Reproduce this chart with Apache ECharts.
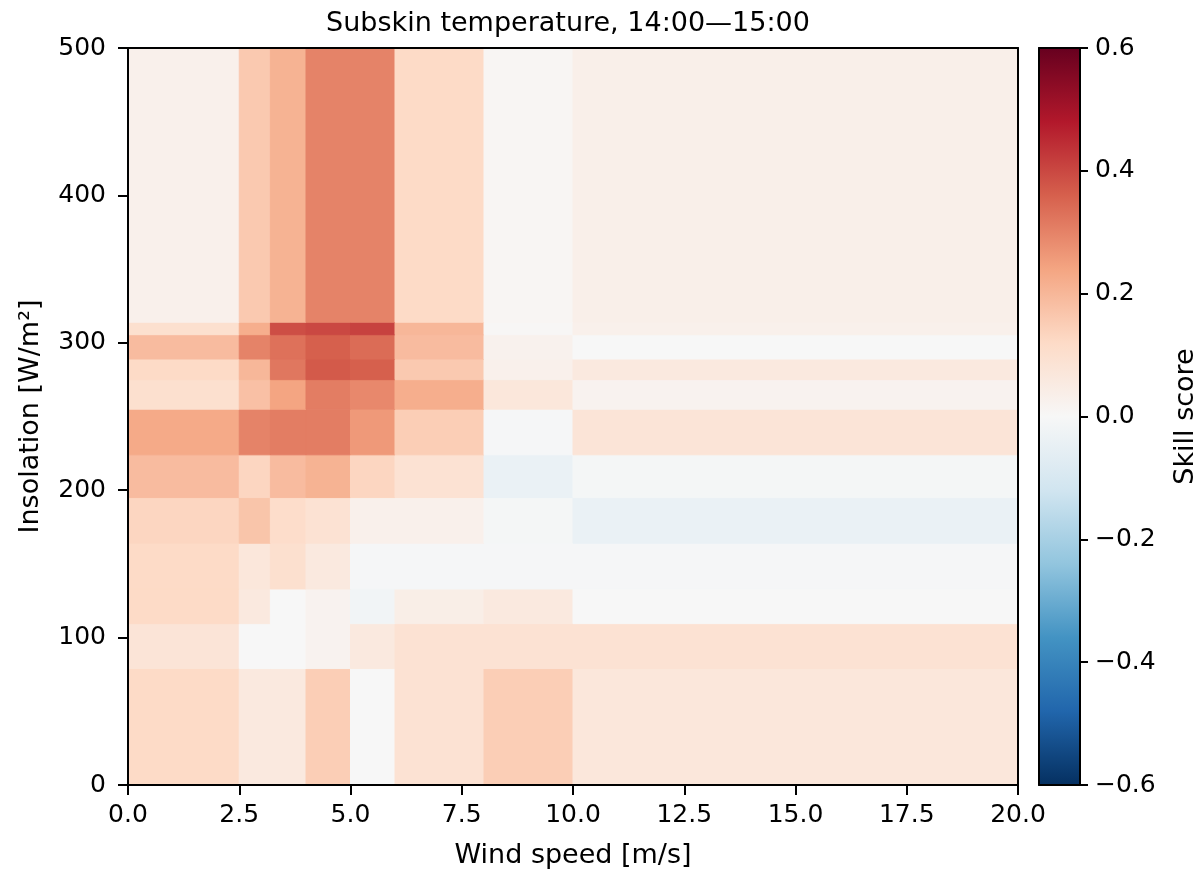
<!DOCTYPE html>
<html>
<head>
<meta charset="utf-8">
<script src="https://cdn.jsdelivr.net/npm/echarts@6.0.0/dist/echarts.min.js"></script>
<style>
html,body{margin:0;padding:0;background:#fff;}
#chart{width:1201px;height:869px;}
</style>
</head>
<body>
<div id="chart"></div>
<script>
// ---- data ----
const titleText = 'Subskin temperature, 14:00\u201415:00';
const xLabel = 'Wind speed [m/s]';
const yLabel = 'Insolation [W/m\u00b2]';
const cbLabel = 'Skill score';
// bin edges
const windEdges = [0, 2.5, 3.2, 4, 5, 6, 8, 10, 20];
const insolationEdges = [0, 79, 109.5, 133, 164, 195, 224, 255, 275, 289, 305.5, 314, 500];
// skill score per insolation bin (bottom to top), one value per wind bin
const row0  = [0.12, 0.06, 0.06, 0.15, 0.00, 0.09, 0.15, 0.07];
const row1  = [0.08, 0.00, 0.00, 0.02, 0.06, 0.09, 0.09, 0.09];
const row2  = [0.12, 0.06, 0.00, 0.02, -0.02, 0.04, 0.06, 0.00];
const row3  = [0.12, 0.07, 0.10, 0.06, -0.005, -0.005, -0.005, -0.005];
const row4  = [0.13, 0.17, 0.11, 0.09, 0.03, 0.03, -0.01, -0.04];
const row5  = [0.19, 0.13, 0.19, 0.21, 0.13, 0.09, -0.04, -0.01];
const row6  = [0.23, 0.30, 0.31, 0.31, 0.26, 0.15, -0.005, 0.08];
const row7  = [0.10, 0.18, 0.24, 0.31, 0.29, 0.22, 0.07, 0.02];
const row8  = [0.12, 0.20, 0.32, 0.37, 0.36, 0.16, 0.03, 0.06];
const row9  = [0.19, 0.30, 0.33, 0.36, 0.34, 0.19, 0.025, 0.00];
const row10 = [0.10, 0.22, 0.39, 0.40, 0.41, 0.20, 0.005, 0.03];
const row11 = [0.03, 0.16, 0.21, 0.30, 0.30, 0.12, 0.01, 0.035];
const rows = [row0, row1, row2, row3, row4, row5, row6, row7, row8, row9, row10, row11];
// axis ticks
const xMin = 0, xMax = 20, xStep = 2.5;
const yMin = 0, yMax = 500, yStep = 100;
const cMin = -0.6, cMax = 0.6, cStep = 0.2;
// RdBu_r colormap
const cmap = ['#053061','#2166ac','#4393c3','#92c5de','#d1e5f0','#f7f7f7','#fddbc7','#f4a582','#d6604d','#b2182b','#67001f'];

// ---- build ----
const cells = [];
rows.forEach(function(r, j){
  r.forEach(function(v, i){
    cells.push([windEdges[i], windEdges[i+1], insolationEdges[j], insolationEdges[j+1], v]);
  });
});

const FONT = 'DejaVu Sans';
const black = '#000';
const tickFs = 25;
const labFs = 27;

const chart = echarts.init(document.getElementById('chart'), null, {renderer:'canvas'});

const gradStops = cmap.map(function(c, k){ return {offset: 1 - k/(cmap.length-1), color: c}; });

const option = {
  backgroundColor: '#fff',
  animation: false,
  title: {
    text: titleText,
    left: 563, top: 5, textAlign: 'center',
    textStyle: {fontFamily: FONT, fontSize: 27, fontWeight: 'normal', color: black}
  },
  grid: [
    {left: 128, top: 48, width: 890, height: 737, containLabel: false, outerBoundsMode: 'none'},
    {left: 1039, top: 48, width: 41, height: 737, containLabel: false, outerBoundsMode: 'none'}
  ],
  visualMap: {
    show: false, type: 'continuous', min: cMin, max: cMax,
    dimension: 4, seriesIndex: 0, inRange: {color: cmap}
  },
  xAxis: [
    {gridIndex: 0, type: 'value', min: xMin, max: xMax, interval: xStep, position: 'bottom', z: 10,
     axisLine: {show: true, onZero: false, lineStyle: {color: black, width: 2}},
     axisTick: {show: true, length: 10, lineStyle: {color: black, width: 2}},
     axisLabel: {margin: 18, fontFamily: FONT, fontSize: tickFs, color: black, formatter: function(v){return v.toFixed(1);}},
     splitLine: {show: false},
     name: xLabel, nameLocation: 'middle', nameGap: 57,
     nameTextStyle: {fontFamily: FONT, fontSize: labFs, color: black}},
    {gridIndex: 0, type: 'value', min: xMin, max: xMax, position: 'top', z: 10,
     axisLine: {show: true, onZero: false, lineStyle: {color: black, width: 2}},
     axisTick: {show: false}, axisLabel: {show: false}, splitLine: {show: false}},
    {gridIndex: 1, type: 'value', min: 0, max: 1, position: 'bottom', z: 10,
     axisLine: {show: true, onZero: false, lineStyle: {color: black, width: 2}},
     axisTick: {show: false}, axisLabel: {show: false}, splitLine: {show: false}},
    {gridIndex: 1, type: 'value', min: 0, max: 1, position: 'top', z: 10,
     axisLine: {show: true, onZero: false, lineStyle: {color: black, width: 2}},
     axisTick: {show: false}, axisLabel: {show: false}, splitLine: {show: false}}
  ],
  yAxis: [
    {gridIndex: 0, type: 'value', min: yMin, max: yMax, interval: yStep, position: 'left', z: 10,
     axisLine: {show: true, onZero: false, lineStyle: {color: black, width: 2}},
     axisTick: {show: true, length: 10, lineStyle: {color: black, width: 2}},
     axisLabel: {margin: 22, fontFamily: FONT, fontSize: tickFs, color: black},
     splitLine: {show: false},
     name: yLabel, nameLocation: 'middle', nameGap: 84, nameRotate: 90,
     nameTextStyle: {fontFamily: FONT, fontSize: labFs, color: black}},
    {gridIndex: 0, type: 'value', min: yMin, max: yMax, position: 'right', z: 10,
     axisLine: {show: true, onZero: false, lineStyle: {color: black, width: 2}},
     axisTick: {show: false}, axisLabel: {show: false}, splitLine: {show: false}},
    {gridIndex: 1, type: 'value', min: cMin, max: cMax, interval: cStep, position: 'right', z: 10,
     axisLine: {show: true, onZero: false, lineStyle: {color: black, width: 2}},
     axisTick: {show: true, length: 8, lineStyle: {color: black, width: 2}},
     axisLabel: {margin: 15, fontFamily: FONT, fontSize: tickFs, color: black,
       formatter: function(v){ return (v < -1e-9 ? '\u2212' : '') + Math.abs(v).toFixed(1); }},
     splitLine: {show: false},
     name: cbLabel, nameLocation: 'middle', nameGap: 92, nameRotate: 90,
     nameTextStyle: {fontFamily: FONT, fontSize: labFs, color: black}},
    {gridIndex: 1, type: 'value', min: cMin, max: cMax, position: 'left', z: 10,
     axisLine: {show: true, onZero: false, lineStyle: {color: black, width: 2}},
     axisTick: {show: false}, axisLabel: {show: false}, splitLine: {show: false}}
  ],
  series: [
    {
      type: 'custom', xAxisIndex: 0, yAxisIndex: 0,
      data: cells,
      encode: {x: [0, 1], y: [2, 3]},
      renderItem: function(params, api){
        const p0 = api.coord([api.value(0), api.value(3)]);
        const p1 = api.coord([api.value(1), api.value(2)]);
        const c = api.visual('color');
        return {type: 'rect',
          shape: {x: p0[0], y: p0[1], width: p1[0]-p0[0], height: p1[1]-p0[1]},
          style: {fill: c, stroke: c, lineWidth: 1}};
      }
    },
    {
      type: 'custom', xAxisIndex: 2, yAxisIndex: 2,
      data: [[0, 1, cMin, cMax]],
      encode: {x: [0, 1], y: [2, 3]},
      renderItem: function(params, api){
        const p0 = api.coord([api.value(0), api.value(3)]);
        const p1 = api.coord([api.value(1), api.value(2)]);
        return {type: 'rect',
          shape: {x: p0[0], y: p0[1], width: p1[0]-p0[0], height: p1[1]-p0[1]},
          style: {fill: new echarts.graphic.LinearGradient(0, 0, 0, 1, gradStops)}};
      }
    }
  ]
};
chart.setOption(option);
</script>
</body>
</html>
